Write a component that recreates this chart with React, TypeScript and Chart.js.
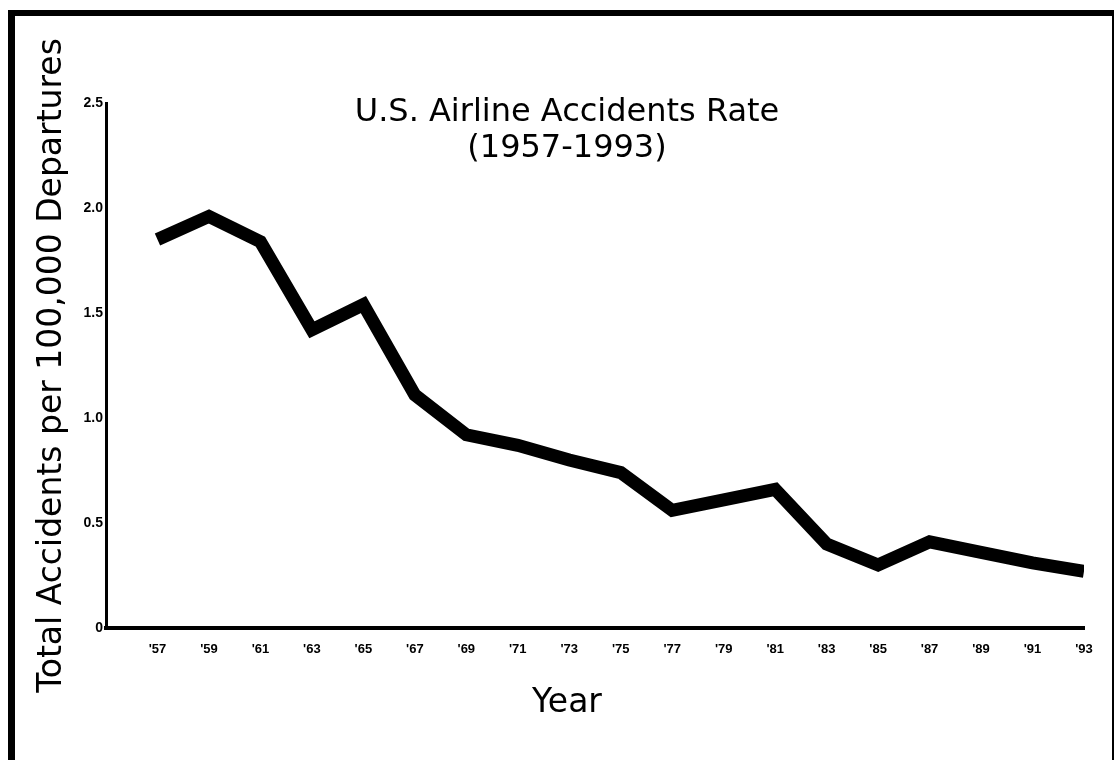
import React, { useEffect, useRef } from 'react';
import { Chart, registerables } from 'chart.js';

Chart.register(...registerables);

const years = [1957, 1959, 1961, 1963, 1965, 1967, 1969, 1971, 1973, 1975, 1977, 1979, 1981, 1983, 1985, 1987, 1989, 1991, 1993];
const xTickLabels = ["'57", "'59", "'61", "'63", "'65", "'67", "'69", "'71", "'73", "'75", "'77", "'79", "'81", "'83", "'85", "'87", "'89", "'91", "'93"];
const accidentRates = [1.85, 1.96, 1.84, 1.42, 1.54, 1.11, 0.92, 0.87, 0.80, 0.74, 0.56, 0.61, 0.66, 0.40, 0.30, 0.41, 0.36, 0.31, 0.27];
const yTickValues = [0, 0.5, 1.0, 1.5, 2.0, 2.5];
const yTickLabels = ['0', '0.5', '1.0', '1.5', '2.0', '2.5'];
const titleLines = ['U.S. Airline Accidents Rate', '(1957-1993)'];
const yAxisTitle = 'Total Accidents per 100,000 Departures';
const xAxisTitle = 'Year';

const FONT = '"DejaVu Sans", "Liberation Sans", sans-serif';
const TICK_FONT = '"Liberation Sans", Arial, sans-serif';

const overlayText = {
  id: 'overlayText',
  afterDraw(chart: any) {
    const ctx = chart.ctx;
    ctx.save();
    ctx.fillStyle = '#000';
    ctx.textAlign = 'center';
    ctx.textBaseline = 'alphabetic';
    ctx.font = `32px ${FONT}`;
    ctx.fillText(titleLines[0], 567, 121);
    ctx.fillText(titleLines[1], 567, 157);
    ctx.font = `33px ${FONT}`;
    ctx.fillText(xAxisTitle, 567, 712);
    ctx.restore();
  },
};

export default function App() {
  const canvasRef = useRef<HTMLCanvasElement | null>(null);

  useEffect(() => {
    if (!canvasRef.current) return;
    const chart = new Chart(canvasRef.current, {
      type: 'line',
      data: {
        datasets: [
          {
            label: 'Accident rate',
            data: years.map((y, i) => ({ x: y, y: accidentRates[i] })),
            borderColor: '#000',
            backgroundColor: '#000',
            borderWidth: 13,
            borderJoinStyle: 'miter',
            borderCapStyle: 'butt',
            pointRadius: 0,
            pointHoverRadius: 0,
            tension: 0,
            fill: false,
          },
        ],
      },
      options: {
        responsive: false,
        animation: false,
        events: [],
        layout: { padding: { top: 103, right: 31, left: 0, bottom: 0 } },
        plugins: {
          legend: { display: false },
          tooltip: { enabled: false },
          title: { display: false },
        },
        scales: {
          x: {
            type: 'linear',
            min: 1955,
            max: 1993,
            afterBuildTicks: (s: any) => {
              s.ticks = years.map((v) => ({ value: v }));
            },
            afterFit: (s: any) => {
              s.height = 132;
            },
            grid: { display: false, drawTicks: false },
            border: { display: true, color: '#000', width: 4 },
            ticks: {
              autoSkip: false,
              maxRotation: 0,
              minRotation: 0,
              padding: 14,
              color: '#000',
              font: { family: TICK_FONT, size: 13, weight: 'bold' },
              callback: (v: any) => {
                const i = years.indexOf(Number(v));
                return i >= 0 ? xTickLabels[i] : '';
              },
            },
          },
          y: {
            type: 'linear',
            min: 0,
            max: 2.5,
            afterBuildTicks: (s: any) => {
              s.ticks = yTickValues.map((v) => ({ value: v }));
            },
            afterFit: (s: any) => {
              s.width = 106;
            },
            grid: { display: false, drawTicks: false },
            border: { display: true, color: '#000', width: 3 },
            ticks: {
              padding: 3,
              color: '#000',
              font: { family: TICK_FONT, size: 14, weight: 'bold' },
              callback: (v: any) => {
                const i = yTickValues.indexOf(Number(v));
                return i >= 0 ? yTickLabels[i] : '';
              },
            },
            title: {
              display: true,
              text: yAxisTitle,
              color: '#000',
              font: { family: FONT, size: 33, weight: 'normal' },
              padding: { top: 33, bottom: 0 },
            },
          },
        },
      },
      plugins: [overlayText],
    } as any);
    return () => chart.destroy();
  }, []);

  return (
    <div style={{ position: 'fixed', left: 0, top: 0, width: 1115, height: 760, overflow: 'hidden', background: '#fff' }}>
      <canvas ref={canvasRef} width={1115} height={760} style={{ position: 'absolute', left: 0, top: 0 }} />
      <div
        style={{
          position: 'absolute',
          left: 8,
          top: 10,
          width: 1106,
          height: 800,
          boxSizing: 'border-box',
          borderLeft: '7px solid #000',
          borderTop: '6px solid #000',
          borderRight: '2px solid #000',
          pointerEvents: 'none',
        }}
      />
    </div>
  );
}
